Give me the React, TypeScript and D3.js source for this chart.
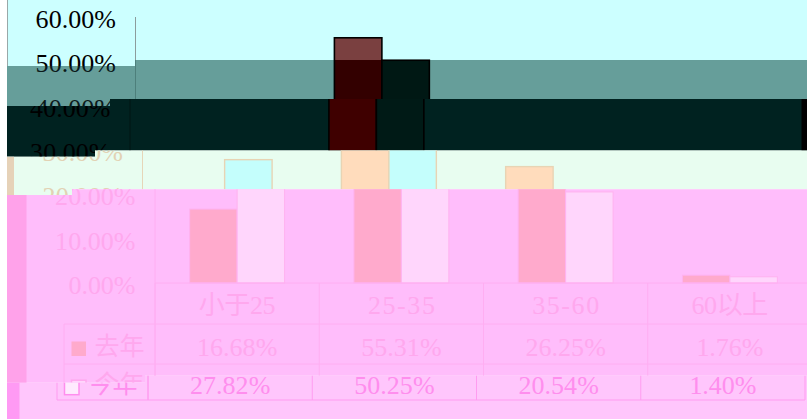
import React from 'react';
import * as d3 from 'd3';

// ---- data ----
const categories = ['小于25', '25-35', '35-60', '60以上'];
const seriesNames = ['去年', '今年'];
const lastYear = [16.68, 55.31, 26.25, 1.76];
const thisYear = [27.82, 50.25, 20.54, 1.4];
const yTicks = [0, 10, 20, 30, 40, 50, 60];

const W = 807;
const H = 419;
const AX = 135.5;
const RX = 792.5;
const BASE = 283;
const TOP = 17;
const LEG_X = 44.5;
const ROWS = [283, 324, 364, 400];

const y = d3.scaleLinear().domain([0, 60]).range([BASE, TOP]);
const x0 = d3.scaleBand<string>().domain(categories).range([AX, RX]).paddingInner(0).paddingOuter(0);
const x1 = d3.scaleBand<string>().domain(seriesNames).range([0, x0.bandwidth()]).paddingInner(0).paddingOuter(0.73);

const fmt = (v: number) => v.toFixed(2) + '%';
const FONT = '"Liberation Serif", "Noto Sans CJK SC", serif';

const textLen = (s: string) =>
  [...s].reduce((a, c) => a + (/[\u4e00-\u9fff]/.test(c) ? 25 : 13.4), 0);

// band boundaries: for x < xs boundary at yl, else at yr
const bounds = [
  { xs: 0, yl: 0, yr: 0 },
  { xs: 135, yl: 66, yr: 60 },
  { xs: 110, yl: 106, yr: 99 },
  { xs: 95, yl: 156.7, yr: 150.5 },
  { xs: 72, yl: 195, yr: 189.3 },
  { xs: 145, yl: 382.7, yr: 375.7 },
  { xs: 0, yl: 419, yr: 419 },
];

interface BandStyle {
  dx: number;
  bg: string;
  text: string;
  axis: string;
  fills: string[];
  stroke: string;
  sw: number;
  marker: string[];
  markerStroke: string;
  strips: { x0: number; x1: number; color: string }[];
}

const bands: BandStyle[] = [
  { dx: 0, bg: '#ccffff', text: '#000000', axis: '#8c9c9c', fills: ['#7a4040', '#c8f0f0'], stroke: '#000', sw: 1.6, marker: ['#7a4040', '#ccffff'], markerStroke: '#000', strips: [{ x0: 7, x1: 8, color: '#9aa8a8' }] },
  { dx: 0, bg: '#669e9a', text: '#0c1a1a', axis: '#4d7f7b', fills: ['#330000', '#001814'], stroke: '#000', sw: 1.6, marker: ['#330000', '#669e9a'], markerStroke: '#000', strips: [] },
  { dx: -5.5, bg: '#002220', text: '#000000', axis: '#001412', fills: ['#3f0000', '#001a16'], stroke: '#000', sw: 1.6, marker: ['#3f0000', '#002220'], markerStroke: '#000', strips: [{ x0: 801.5, x1: 807, color: '#000' }] },
  { dx: 7, bg: '#e8fdf0', text: '#e2d2b4', axis: '#e6d6b8', fills: ['#ffdcbc', '#c4fefc'], stroke: '#e8d4b4', sw: 1.4, marker: ['#ffdcbc', '#e8fdf0'], markerStroke: '#e2d2b4', strips: [{ x0: 7, x1: 14, color: '#e6d2b8' }] },
  { dx: 19.5, bg: '#ffbdfb', text: '#ffa8ee', axis: '#ffaef2', fills: ['#ffaacc', '#ffd6fc'], stroke: '#ffb2f0', sw: 1, marker: ['#ffaacc', '#ffd6fc'], markerStroke: '#ffa8ee', strips: [{ x0: 7, x1: 26.5, color: '#ffa2ea' }] },
  { dx: 12.5, bg: '#ffc6fc', text: '#ff8eee', axis: '#ff9cf0', fills: ['#ffaacc', '#ffd6fc'], stroke: '#ff9cf0', sw: 1, marker: ['#ffaacc', '#ffeafe'], markerStroke: '#ff8eee', strips: [{ x0: 7, x1: 19.5, color: '#ff9af4' }] },
];

const bandPath = (i: number) => {
  const t = bounds[i];
  const b = bounds[i + 1];
  const pts = [
    [7, t.yl], [t.xs, t.yl], [t.xs, t.yr], [W, t.yr],
    [W, b.yr], [b.xs, b.yr], [b.xs, b.yl], [7, b.yl],
  ];
  return 'M' + pts.map((p) => p.join(',')).join('L') + 'Z';
};

const bandRange = (i: number) => {
  const t = bounds[i];
  const b = bounds[i + 1];
  return [Math.min(t.yl, t.yr), Math.max(b.yl, b.yr)];
};

function Txt({ s, x, cy, anchor, color, size = 26, range }: { s: string; x: number; cy: number; anchor: string; color: string; size?: number; range: number[] }) {
  // only draw the piece of text that can be seen in this band
  if (cy + 10 <= range[0] || cy - 12 >= range[1]) return null;
  return (
    <text
      x={x}
      y={cy + 8.5}
      textAnchor={anchor as any}
      fill={color}
      fontSize={size}
      fontFamily={FONT}
      textLength={textLen(s)}
      lengthAdjust="spacing"
    >
      {s}
    </text>
  );
}

function Chart({ st, range }: { st: BandStyle; range: number[] }) {
  const series = [lastYear, thisYear];
  const rowCenters = [305.7, 347, 385.7];
  return (
    <g transform={`translate(${st.dx},0)`}>
      {/* y axis */}
      <line x1={AX} x2={AX} y1={TOP} y2={ROWS[3]} stroke={st.axis} strokeWidth={1} />
      {yTicks.map((t) => (
        <Txt key={t} s={fmt(t)} x={116} cy={y(t) + 2.5} anchor="end" color={st.text} range={range} />
      ))}
      {/* bars */}
      {categories.map((c, ci) =>
        seriesNames.map((s, si) => {
          const v = series[si][ci];
          return (
            <rect
              key={c + s}
              x={(x0(c) as number) + (x1(s) as number)}
              y={y(v)}
              width={x1.bandwidth()}
              height={BASE - y(v)}
              fill={st.fills[si]}
              stroke={st.stroke}
              strokeWidth={st.sw}
            />
          );
        })
      )}
      {/* data table */}
      <g stroke={st.axis} strokeWidth={1} fill="none">
        <line x1={AX} x2={RX} y1={ROWS[0]} y2={ROWS[0]} />
        {[ROWS[1], ROWS[2], ROWS[3]].map((r) => (
          <line key={r} x1={LEG_X} x2={RX} y1={r} y2={r} />
        ))}
        <line x1={LEG_X} x2={LEG_X} y1={ROWS[1]} y2={ROWS[3]} />
        {[...categories.map((c) => x0(c) as number), RX].map((xx, i) => (
          <line key={i} x1={xx} x2={xx} y1={ROWS[0]} y2={ROWS[3]} />
        ))}
      </g>
      {categories.map((c) => (
        <Txt key={c} s={c} x={(x0(c) as number) + x0.bandwidth() / 2} cy={rowCenters[0]} anchor="middle" color={st.text} range={range} />
      ))}
      {seriesNames.map((s, si) => (
        <g key={s}>
          <rect x={52} y={rowCenters[si + 1] - 5.5} width={14.5} height={14.5} fill={st.marker[si]} stroke={si === 1 ? st.markerStroke : 'none'} strokeWidth={1.5} />
          <Txt s={s} x={75} cy={rowCenters[si + 1] - 1} anchor="start" color={st.text} size={25} range={range} />
          {categories.map((c, ci) => (
            <Txt key={c} s={fmt(series[si][ci])} x={(x0(c) as number) + x0.bandwidth() / 2} cy={rowCenters[si + 1]} anchor="middle" color={st.text} range={range} />
          ))}
        </g>
      ))}
    </g>
  );
}

export default function App() {
  return (
    <div style={{ position: 'absolute', left: 0, top: 0, width: W, height: H, background: '#fff' }}>
      <svg width={W} height={H} style={{ display: 'block' }}>
        <defs>
          {bands.map((_, i) => (
            <clipPath key={i} id={`band${i}`}>
              <path d={bandPath(i)} />
            </clipPath>
          ))}
        </defs>
        {bands.map((st, i) => (
          <g key={i} clipPath={`url(#band${i})`}>
            <rect x={7} y={0} width={W - 7} height={H} fill={st.bg} />
            <Chart st={st} range={bandRange(i)} />
            {st.strips.map((sp, j) => (
              <rect key={j} x={sp.x0} y={0} width={sp.x1 - sp.x0} height={H} fill={sp.color} />
            ))}
          </g>
        ))}
      </svg>
    </div>
  );
}
